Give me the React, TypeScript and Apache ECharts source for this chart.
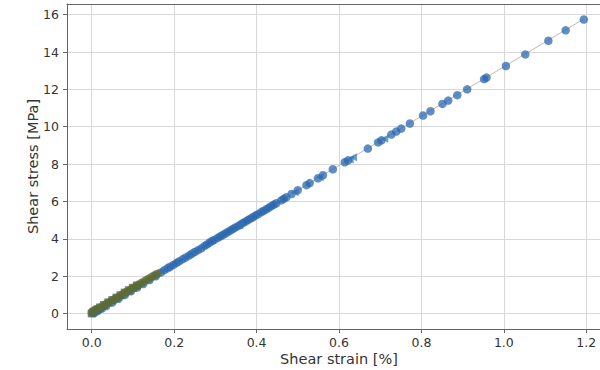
import React, { useEffect, useRef } from "react";
import * as echarts from "echarts";

// ---- Data ----
const xTicks = [0, 0.2, 0.4, 0.6, 0.8, 1.0, 1.2];
const yTicks = [0, 2, 4, 6, 8, 10, 12, 14, 16];

// fitted line
const lineStrain = [0, 1.194];
const lineStress = [0, 15.77];

// main specimen (blue circles)
const blueStrain = [
  0.005, 0.015, 0.025, 0.035, 0.05, 0.065, 0.08, 0.095, 0.11, 0.125, 0.14, 0.155,
  0.168, 0.176, 0.184, 0.19, 0.198, 0.205, 0.212, 0.22, 0.228, 0.236, 0.243, 0.25,
  0.258, 0.266, 0.274, 0.28, 0.286, 0.292, 0.298, 0.306, 0.312, 0.318, 0.324, 0.33,
  0.336, 0.342, 0.348, 0.355, 0.361, 0.367, 0.373, 0.379, 0.385, 0.391, 0.397, 0.403,
  0.411, 0.417, 0.424, 0.43, 0.436, 0.442, 0.448, 0.46, 0.466, 0.472, 0.485, 0.5,
  0.521, 0.529, 0.549, 0.561, 0.585, 0.614, 0.622, 0.67, 0.695, 0.703, 0.727, 0.739,
  0.751, 0.772, 0.804, 0.822, 0.851, 0.865, 0.887, 0.911, 0.952, 0.958, 1.005, 1.052,
  1.108, 1.15, 1.194,
];
const blueStress = [
  0.02, 0.14, 0.27, 0.4, 0.59, 0.79, 0.99, 1.19, 1.39, 1.58, 1.79, 1.99,
  2.2, 2.32, 2.42, 2.5, 2.6, 2.7, 2.79, 2.9, 3.0, 3.1, 3.2, 3.29,
  3.39, 3.49, 3.62, 3.7, 3.8, 3.88, 3.95, 4.05, 4.13, 4.2, 4.28, 4.36,
  4.44, 4.52, 4.6, 4.68, 4.76, 4.85, 4.92, 5.0, 5.08, 5.15, 5.24, 5.31,
  5.42, 5.5, 5.58, 5.67, 5.75, 5.83, 5.9, 6.06, 6.14, 6.22, 6.4, 6.6,
  6.87, 6.98, 7.24, 7.4, 7.72, 8.1, 8.2, 8.83, 9.16, 9.27, 9.58, 9.74,
  9.9, 10.17, 10.6, 10.83, 11.22, 11.4, 11.69, 12.0, 12.55, 12.63, 13.25, 13.87,
  14.6, 15.16, 15.74,
];

// second marker set (blue left triangles)
const triStrain = [0.358, 0.492, 0.553, 0.626, 0.634, 0.71];
const triStress = [4.72, 6.49, 7.3, 8.25, 8.36, 9.36];

// early-loading specimen (olive)
const oliveStrain = [
  0.0, 0.006, 0.012, 0.018, 0.024, 0.03, 0.036, 0.042, 0.048, 0.054, 0.06, 0.066,
  0.072, 0.078, 0.084, 0.09, 0.096, 0.102, 0.108, 0.114, 0.12, 0.126, 0.132, 0.138,
  0.144, 0.15, 0.156, 0.16,
];
const oliveStress = [
  0.05, 0.13, 0.21, 0.29, 0.37, 0.44, 0.52, 0.6, 0.68, 0.75, 0.83, 0.91,
  0.99, 1.07, 1.15, 1.23, 1.31, 1.39, 1.47, 1.55, 1.63, 1.71, 1.79, 1.86,
  1.94, 2.02, 2.09, 2.13,
];

// origin cluster and early points (gray squares)
const grayStrain = [0.0, 0.003, 0.006, 0.01, 0.014, 0.02, 0.03, 0.04, 0.05, 0.06, 0.07, 0.08, 0.09, 0.1, 0.11];
const grayStress = [0.0, 0.06, 0.11, 0.17, 0.23, 0.32, 0.46, 0.59, 0.72, 0.85, 0.98, 1.12, 1.24, 1.37, 1.5];

const pairs = (xs: number[], ys: number[]) => xs.map((x, i) => [x, ys[i]]);

export default function App() {
  const ref = useRef<HTMLDivElement>(null);

  useEffect(() => {
    if (!ref.current) return;
    const chart = echarts.init(ref.current, undefined, { renderer: "svg" });
    const font = "DejaVu Sans";
    const labelColor = "#333";
    const frame = "#666";
    chart.setOption({
      animation: false,
      backgroundColor: "#ffffff",
      grid: {
        left: 67,
        right: -11,
        top: 4,
        bottom: 41,
        show: false,
        containLabel: false,
        outerBoundsMode: "none",
      },
      xAxis: [
        {
          type: "value",
          min: -0.06,
          max: 1.26,
          name: "Shear strain [%]",
          nameLocation: "middle",
          nameGap: 22,
          nameMoveOverlap: false,
          nameTextStyle: { fontFamily: font, fontSize: 14.5, color: labelColor },
          axisLine: { show: true, onZero: false, lineStyle: { color: frame, width: 1 } },
          axisTick: {
            show: true,
            inside: false,
            length: 4,
            lineStyle: { color: frame },
            customValues: xTicks,
          },
          axisLabel: {
            customValues: xTicks,
            margin: 7,
            fontFamily: font,
            fontSize: 12.5,
            color: labelColor,
            formatter: (v: number) => v.toFixed(1),
          },
          splitLine: { show: true, lineStyle: { color: "#d8d8d8", width: 1 } },
        },
        {
          type: "value",
          position: "top",
          min: -0.06,
          max: 1.26,
          axisLine: { show: true, onZero: false, lineStyle: { color: frame, width: 1 } },
          axisTick: { show: false },
          axisLabel: { show: false },
          splitLine: { show: false },
        },
      ],
      yAxis: {
        type: "value",
        min: -0.83,
        max: 16.57,
        name: "Shear stress [MPa]",
        nameLocation: "middle",
        nameGap: 27,
        nameMoveOverlap: false,
        nameTextStyle: { fontFamily: font, fontSize: 14.5, color: labelColor },
        axisLine: { show: true, onZero: false, lineStyle: { color: frame, width: 1 } },
        axisTick: {
          show: true,
          inside: false,
          length: 4,
          lineStyle: { color: frame },
          customValues: yTicks,
        },
        axisLabel: {
          customValues: yTicks,
          margin: 8,
          fontFamily: font,
          fontSize: 12.5,
          color: labelColor,
          formatter: (v: number) => String(Math.round(v)),
        },
        splitLine: { show: true, lineStyle: { color: "#d8d8d8", width: 1 } },
      },
      series: [
        {
          type: "line",
          data: pairs(lineStrain, lineStress),
          showSymbol: false,
          symbol: "none",
          lineStyle: { color: "#c4b9a8", width: 1 },
          z: 1,
        },
        {
          type: "scatter",
          data: pairs(grayStrain, grayStress),
          symbol: "rect",
          symbolSize: 8,
          itemStyle: { color: "#545c63", opacity: 0.72 },
          z: 2,
        },
        {
          type: "scatter",
          data: pairs(blueStrain, blueStress),
          symbol: "circle",
          symbolSize: 8.5,
          itemStyle: { color: "#2a66ae", opacity: 0.74 },
          z: 3,
        },
        {
          type: "scatter",
          data: pairs(triStrain, triStress),
          symbol: "triangle",
          symbolRotate: 90,
          symbolSize: 8,
          itemStyle: { color: "#3270b8", opacity: 0.7 },
          z: 3,
        },
        {
          type: "scatter",
          data: pairs(oliveStrain, oliveStress),
          symbol: "circle",
          symbolSize: 8.5,
          itemStyle: { color: "#5d6c31", opacity: 0.66 },
          z: 4,
        },
      ],
    });
    return () => chart.dispose();
  }, []);

  return (
    <div
      ref={ref}
      style={{ position: "fixed", left: 0, top: 0, width: 600, height: 370 }}
    />
  );
}
